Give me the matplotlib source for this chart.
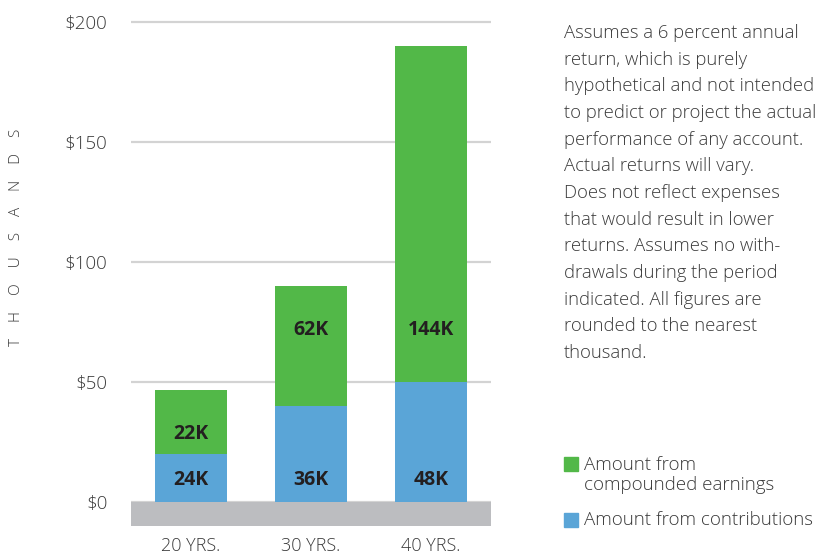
import matplotlib.pyplot as plt

# data (thousands of dollars)
periods = ['20 YRS.', '30 YRS.', '40 YRS.']
contributions = [20, 40, 50]
earnings = [26.5, 50, 140]
contrib_labels = ['24K', '36K', '48K']
earn_labels = ['22K', '62K', '144K']
yticks = [0, 50, 100, 150, 200]

note = ("Assumes a 6 percent annual\n"
        "return, which is purely\n"
        "hypothetical and not intended\n"
        "to predict or project the actual\n"
        "performance of any account.\n"
        "Actual returns will vary.\n"
        "Does not reflect expenses\n"
        "that would result in lower\n"
        "returns. Assumes no with-\n"
        "drawals during the period\n"
        "indicated. All figures are\n"
        "rounded to the nearest\n"
        "thousand.")

green = '#52b848'
blue = '#5aa5d7'
band = '#bcbdc0'
grid = '#d3d3d3'
txt = '#3a3a3a'

plt.rcParams['font.family'] = ['Open Sans', 'DejaVu Sans']
plt.rcParams['font.weight'] = 300

fig = plt.figure(figsize=(8.36, 5.56), dpi=100)
ax = fig.add_axes((0.1567, 0.0545, 0.4306, 0.9151))

x = range(len(periods))
ax.bar(x, contributions, width=0.6, color=blue, zorder=3)
ax.bar(x, earnings, width=0.6, bottom=contributions, color=green, zorder=3)

# grey floor under the bars
ax.axhspan(-10, 0, color=band, zorder=2, lw=0)

ax.set_xlim(-0.5, 2.5)
ax.set_ylim(-10, 202)
ax.set_yticks(yticks)
ax.set_yticklabels(['$' + str(t) for t in yticks])
ax.set_xticks(list(x))
ax.set_xticklabels(periods)
ax.tick_params(length=0, labelcolor=txt)
ax.tick_params(axis='y', pad=17, labelsize=13.5)
ax.tick_params(axis='x', pad=8, labelsize=13)
ax.yaxis.grid(True, color=grid, lw=1.6, zorder=0)
ax.set_axisbelow(True)
for s in ax.spines.values():
    s.set_visible(False)

# value labels inside the bars
earn_label_y = [28, 71.5, 71.5]
for i in x:
    ax.text(i, 9, contrib_labels[i], ha='center', va='center',
            fontsize=14, fontweight='bold', color='#231f20', zorder=4)
    ax.text(i, earn_label_y[i], earn_labels[i], ha='center', va='center',
            fontsize=14, fontweight='bold', color='#231f20', zorder=4)

fig.text(17 / 836, 1 - 237 / 556, 'T    H    O    U    S    A    N    D    S',
         rotation=90, ha='center', va='center', fontsize=11, color=txt)

fig.text(564 / 836, 1 - 24 / 556, note, ha='left', va='top',
         fontsize=13.3, color=txt, linespacing=1.62)

# legend, drawn by hand
fig.patches.append(plt.Rectangle((564 / 836, 1 - 471 / 556), 14 / 836, 14 / 556,
                                 transform=fig.transFigure, color=green))
fig.patches.append(plt.Rectangle((564 / 836, 1 - 527 / 556), 14 / 836, 14 / 556,
                                 transform=fig.transFigure, color=blue))
fig.text(584 / 836, 1 - 475 / 556, 'Amount from\ncompounded earnings',
         ha='left', va='center', fontsize=13.5, color=txt, linespacing=1.1)
fig.text(584 / 836, 1 - 520 / 556, 'Amount from contributions',
         ha='left', va='center', fontsize=13.5, color=txt)

plt.savefig('out.png', dpi=100)
